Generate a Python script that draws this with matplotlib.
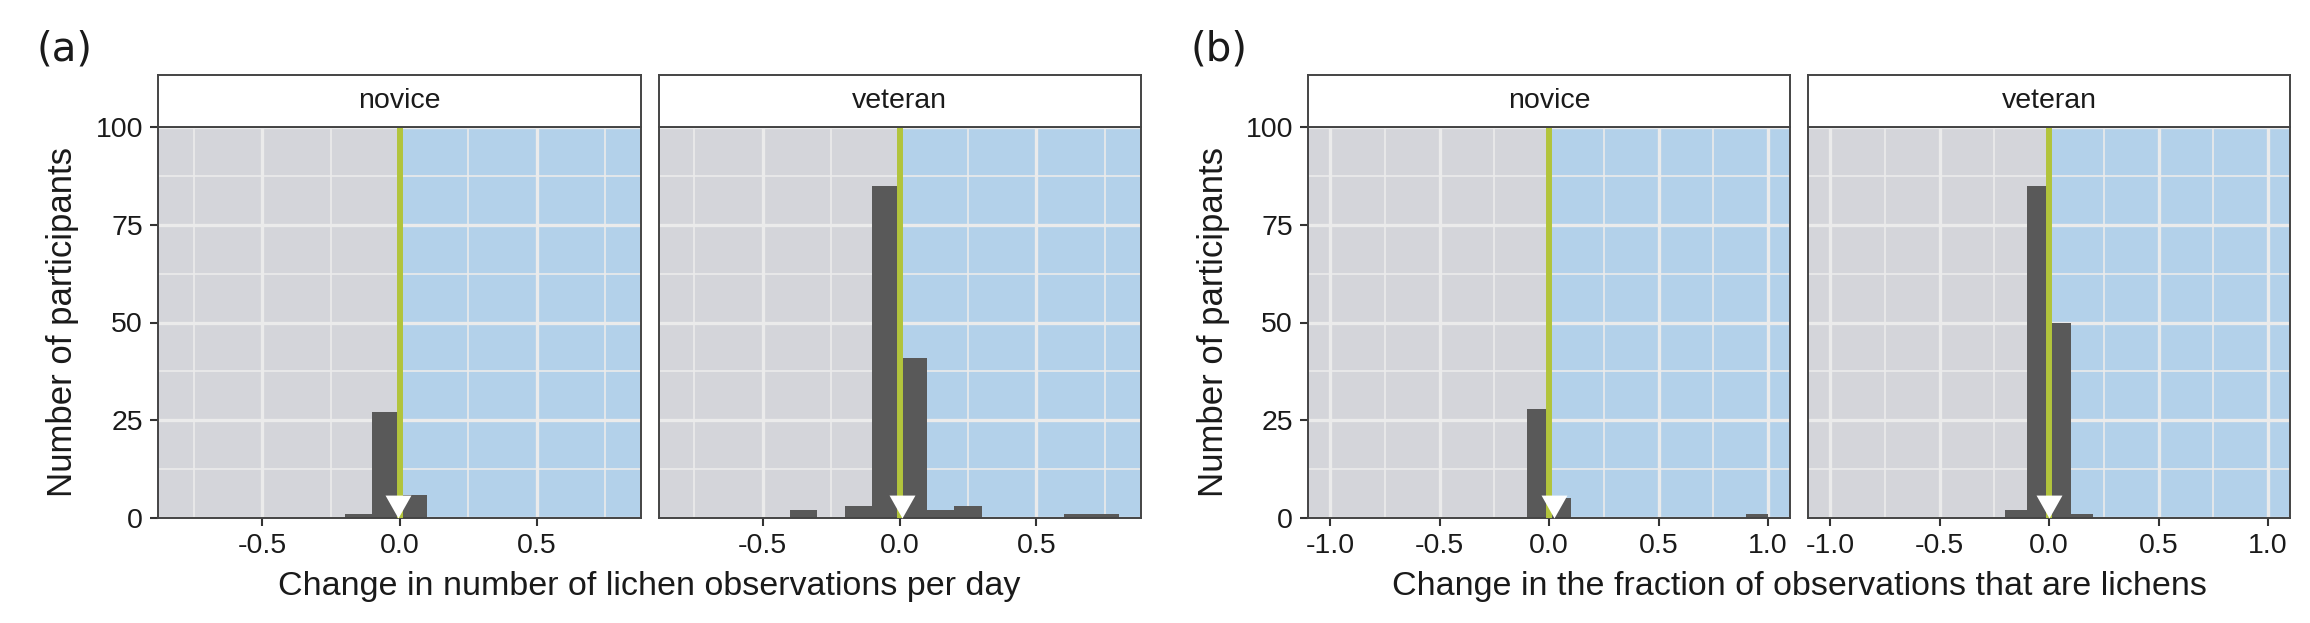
#______importing libraries__________
import matplotlib.pyplot as plt
from matplotlib.path import Path

plt.rcParams['font.family'] = ['Liberation Sans', 'DejaVu Sans']
plt.rcParams['axes.unicode_minus'] = False  # ggplot prints a plain hyphen

#______histogram counts (bins are 0.1 wide, listed by left edge)______________________________
bin_width = 0.1

a_novice_left = [-0.2, -0.1, 0.0]
a_novice_count = [1, 27, 6]
a_veteran_left = [-0.4, -0.2, -0.1, 0.0, 0.1, 0.2, 0.6, 0.7]
a_veteran_count = [2, 3, 85, 41, 2, 3, 1, 1]

b_novice_left = [-0.1, 0.0, 0.9]
b_novice_count = [28, 5, 1]
b_veteran_left = [-0.2, -0.1, 0.0, 0.1]
b_veteran_count = [2, 85, 50, 1]

# mean change per panel, shown by the white triangle
a_means = [-0.004, 0.008]
b_means = [0.02, 0.0]

panel_names = ["novice", "veteran"]
a_xticks = [-0.5, 0.0, 0.5]
b_xticks = [-1.0, -0.5, 0.0, 0.5, 1.0]
y_ticks = [0, 25, 50, 75, 100]

#______colours__________
gray_bg = "#d4d5da"
blue_bg = "#b3d1ea"
grid_col = "#ebebeb"
bar_col = "#595959"
green = "#b2c43c"
frame_col = "#444444"
text_col = "#1a1a1a"

#______figure layout in pixels__________
W, H = 2310, 623
fig = plt.figure(figsize=(W / 100, H / 100), dpi=100)

panel_top, panel_bot = 127, 518
strip_top = 75


def px_box(x0, x1, y_top, y_bot):
    return [x0 / W, 1 - y_bot / H, (x1 - x0) / W, (y_bot - y_top) / H]


# a triangle whose tip sits on the data point
tri = Path([(-13, 23), (13, 23), (0, 0), (-13, 23)],
           [Path.MOVETO, Path.LINETO, Path.LINETO, Path.CLOSEPOLY])


def draw_panel(x0, x1, name, lefts, counts, mean, xlim, xticks, xminor, show_y):
    ax = fig.add_axes(px_box(x0, x1, panel_top, panel_bot))
    ax.set_xlim(xlim)
    ax.set_ylim(0, 100)

    # background split at zero
    ax.axvspan(xlim[0], 0, color=gray_bg, lw=0, zorder=1)
    ax.axvspan(0, xlim[1], color=blue_bg, lw=0, zorder=1)

    # grid on top of the background
    ax.set_axisbelow('line')
    ax.set_xticks(xticks)
    ax.set_xticks(xminor, minor=True)
    ax.set_yticks(y_ticks)
    ax.set_yticks([12.5, 37.5, 62.5, 87.5], minor=True)
    ax.grid(which='major', color=grid_col, lw=2.4)
    ax.grid(which='minor', color=grid_col, lw=1.2)

    ax.bar(lefts, counts, width=bin_width, align='edge', color=bar_col, lw=0, zorder=2)
    ax.axvline(0, color=green, lw=4.3, zorder=3)
    ax.plot([mean], [0], marker=tri, ms=33, color="white", mew=0, ls="none",
            zorder=4, clip_on=False)

    ax.set_xticklabels([f"{t:.1f}" for t in xticks])
    ax.tick_params(which='major', length=6, width=1.5, color="#333333",
                   labelsize=20.5, labelcolor=text_col, pad=5)
    ax.tick_params(which='minor', length=0)
    if show_y:
        ax.set_yticklabels([str(t) for t in y_ticks])
    else:
        ax.tick_params(axis='y', which='both', left=False, labelleft=False)
    for s in ax.spines.values():
        s.set_color(frame_col)
        s.set_linewidth(1.4)

    # facet strip
    sx = fig.add_axes(px_box(x0, x1, strip_top, panel_top))
    sx.set_facecolor("white")
    sx.set_xticks([])
    sx.set_yticks([])
    for s in sx.spines.values():
        s.set_color(frame_col)
        s.set_linewidth(1.4)
    sx.text(0.5, 0.5, name, ha='center', va='center', size=20.5, color=text_col,
            transform=sx.transAxes)
    return ax


minor_x = [-0.75, -0.25, 0.25, 0.75]

#______panel (a)__________
draw_panel(158.3, 640.7, panel_names[0], a_novice_left, a_novice_count, a_means[0],
           (-0.88, 0.88), a_xticks, minor_x, True)
draw_panel(658.5, 1140.5, panel_names[1], a_veteran_left, a_veteran_count, a_means[1],
           (-0.88, 0.88), a_xticks, minor_x, False)

#______panel (b)__________
draw_panel(1308.3, 1790, panel_names[0], b_novice_left, b_novice_count, b_means[0],
           (-1.1, 1.1), b_xticks, minor_x, True)
draw_panel(1808.3, 2290, panel_names[1], b_veteran_left, b_veteran_count, b_means[1],
           (-1.1, 1.1), b_xticks, minor_x, False)

#______labels__________
fig.text(63 / W, 1 - 322 / H, "Number of participants", rotation=90,
         ha='center', va='center', size=25, color=text_col)
fig.text(1214 / W, 1 - 322 / H, "Number of participants", rotation=90,
         ha='center', va='center', size=25, color=text_col)
fig.text(649 / W, 1 - 587 / H, "Change in number of lichen observations per day",
         ha='center', va='center', size=24.5, color=text_col)
fig.text(1799 / W, 1 - 587 / H, "Change in the fraction of observations that are lichens",
         ha='center', va='center', size=24.5, color=text_col)
fig.text(64 / W, 1 - 50 / H, "(a)", ha='center', va='center', size=29,
         family='DejaVu Sans', color=text_col)
fig.text(1219 / W, 1 - 50 / H, "(b)", ha='center', va='center', size=29,
         family='DejaVu Sans', color=text_col)

fig.savefig("out.png", dpi=100, facecolor="white")
